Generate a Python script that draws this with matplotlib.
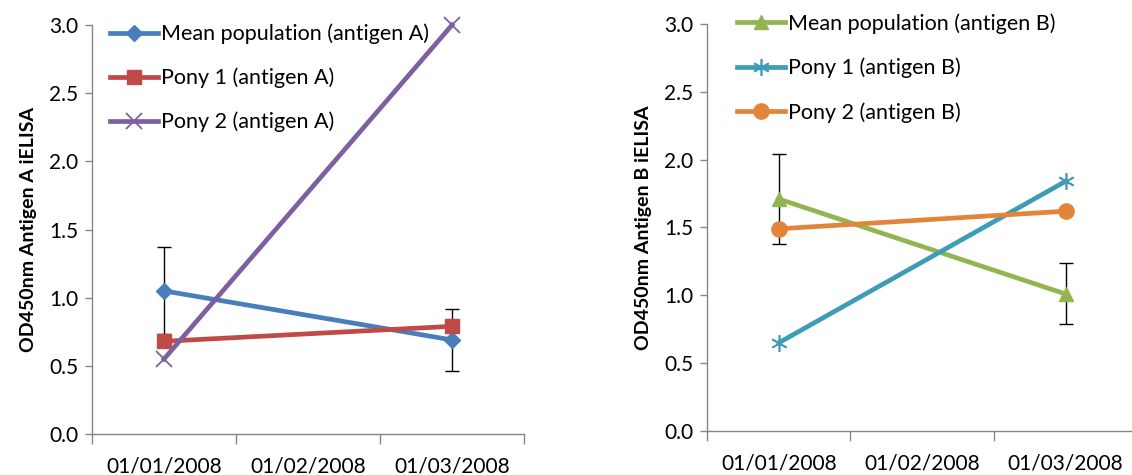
import matplotlib
matplotlib.use("Agg")
import matplotlib.pyplot as plt
import numpy as np

plt.rcParams['font.family'] = ['Lato', 'DejaVu Sans']

categories = ['01/01/2008', '01/02/2008', '01/03/2008']
sample_idx = [0, 2]  # data exists for January and March

# Antigen A
mean_a = [1.05, 0.69]
err_a = [0.32, 0.23]
pony1_a = [0.68, 0.79]
pony2_a = [0.55, 3.00]

# Antigen B
mean_b = [1.71, 1.01]
err_b = [0.33, 0.225]
pony1_b = [0.65, 1.84]
pony2_b = [1.49, 1.62]

yticks = [0.0, 0.5, 1.0, 1.5, 2.0, 2.5, 3.0]

BLUE = '#4A7EBB'; RED = '#BE4B48'; PURPLE = '#7D60A0'
GREEN = '#93B551'; AQUA = '#3F9CB7'; ORANGE = '#E3843B'
AXCOL = '#868686'
FS_TICK = 15
FS_LEG = 15.5

fig = plt.figure(figsize=(11.32, 4.75), dpi=100)
axA = fig.add_axes([0.0813, 0.0863, 0.3816, 0.861])
axB = fig.add_axes([0.6246, 0.0926, 0.380, 0.857])


def style(ax, ylabel):
    ax.set_xlim(-0.5, 2.5)
    ax.set_ylim(0, 3.0)
    ax.set_yticks(yticks)
    ax.set_yticklabels([f'{v:.1f}' for v in yticks])
    ax.set_xticks([-0.5, 0.5, 1.5, 2.5])
    ax.set_xticklabels([])
    ax.set_xticks(range(len(categories)), minor=True)
    ax.set_xticklabels(categories, minor=True)
    ax.tick_params(axis='x', which='minor', length=0, pad=16, labelsize=FS_TICK)
    ax.tick_params(axis='x', which='major', length=7, color=AXCOL, width=1)
    ax.tick_params(axis='y', length=5, color=AXCOL, width=1, labelsize=FS_TICK, pad=5)
    for s in ['top', 'right']:
        ax.spines[s].set_visible(False)
    for s in ['left', 'bottom']:
        ax.spines[s].set_color(AXCOL)
        ax.spines[s].set_linewidth(1)
    ax.set_ylabel(ylabel, fontsize=14, fontweight='bold', labelpad=9)
    ax.patch.set_alpha(0)


# Panel A
axA.errorbar(sample_idx, mean_a, yerr=err_a, fmt='none', ecolor='black',
             elinewidth=1, capsize=5, capthick=1, zorder=2)
axA.plot(sample_idx, mean_a, color=BLUE, lw=3.4, marker='D', ms=8,
         label='Mean population (antigen A)', zorder=3, clip_on=False)
axA.plot(sample_idx, pony1_a, color=RED, lw=3.4, marker='s', ms=10,
         label='Pony 1 (antigen A)', zorder=4, clip_on=False)
axA.plot(sample_idx, pony2_a, color=PURPLE, lw=3.4, marker='x', ms=11, mew=1.3,
         label='Pony 2 (antigen A)', zorder=5, clip_on=False)
style(axA, 'OD450nm Antigen A iELISA')
axA.legend(loc='upper left', bbox_to_anchor=(0.022, 1.024), frameon=False,
           fontsize=FS_LEG, handlelength=2.23, handletextpad=0.12, labelspacing=1.08,
           borderaxespad=0)

# Panel B
axB.errorbar(sample_idx, mean_b, yerr=err_b, fmt='none', ecolor='black',
             elinewidth=1, capsize=5, capthick=1, zorder=2)
axB.plot(sample_idx, mean_b, color=GREEN, lw=3.4, marker='^', ms=10,
         label='Mean population (antigen B)', zorder=3, clip_on=False)
axB.plot(sample_idx, pony1_b, color=AQUA, lw=3.4, marker=(6, 2, 0), ms=12, mew=1.2,
         label='Pony 1 (antigen B)', zorder=4, clip_on=False)
axB.plot(sample_idx, pony2_b, color=ORANGE, lw=3.4, marker='o', ms=11,
         label='Pony 2 (antigen B)', zorder=5, clip_on=False)
style(axB, 'OD450nm Antigen B iELISA')
axB.legend(loc='upper left', bbox_to_anchor=(0.05, 1.048), frameon=False,
           fontsize=FS_LEG, handlelength=2.23, handletextpad=0.12, labelspacing=1.12,
           borderaxespad=0)

fig.savefig('out.png', dpi=100)
